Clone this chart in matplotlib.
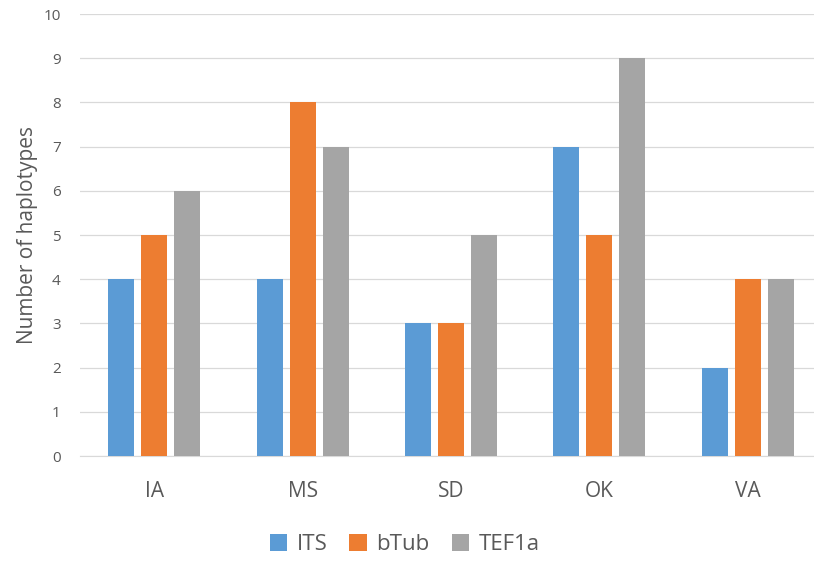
import numpy as np
import matplotlib.pyplot as plt

plt.rcParams['font.family'] = ['Open Sans', 'DejaVu Sans']

categories = ["IA", "MS", "SD", "OK", "VA"]
its = [4, 4, 3, 7, 2]
btub = [5, 8, 3, 5, 4]
tef1a = [6, 7, 5, 9, 4]

series = [("ITS", its, "#5B9BD5"), ("bTub", btub, "#ED7D31"), ("TEF1a", tef1a, "#A5A5A5")]

fig = plt.figure(figsize=(8.14, 5.61), dpi=100)
ax = fig.add_axes([0.0983, 0.187, 0.9115, 0.788])

x = np.arange(len(categories))
w = 0.175
step = 0.222
for i, (name, vals, col) in enumerate(series):
    ax.bar(x + (i - 1) * step, vals, width=w, color=col, label=name, zorder=3)

ax.set_xlim(-0.5, len(categories) - 0.5)
ax.set_ylim(0, 10)
ax.set_yticks(range(0, 11))
ax.set_xticks(x)
ax.set_xticklabels(categories, fontsize=15, color="#595959")
ax.tick_params(axis="y", labelsize=11, colors="#595959", length=0, pad=14)
ax.tick_params(axis="x", length=0, pad=18)
ax.grid(axis="y", color="#D9D9D9", linewidth=0.9, zorder=0)
for s in ["top", "right", "left"]:
    ax.spines[s].set_visible(False)
ax.spines["bottom"].set_color("#D9D9D9")
ax.set_ylabel("Number of haplotypes", fontsize=15, color="#595959", labelpad=4)

fig.legend(loc="lower center", ncol=3, frameon=False, fontsize=16,
           bbox_to_anchor=(0.497, -0.025), handlelength=0.8, handleheight=0.8,
           columnspacing=1.0, handletextpad=0.4, labelcolor="#595959")

fig.savefig("out.png", dpi=100)
